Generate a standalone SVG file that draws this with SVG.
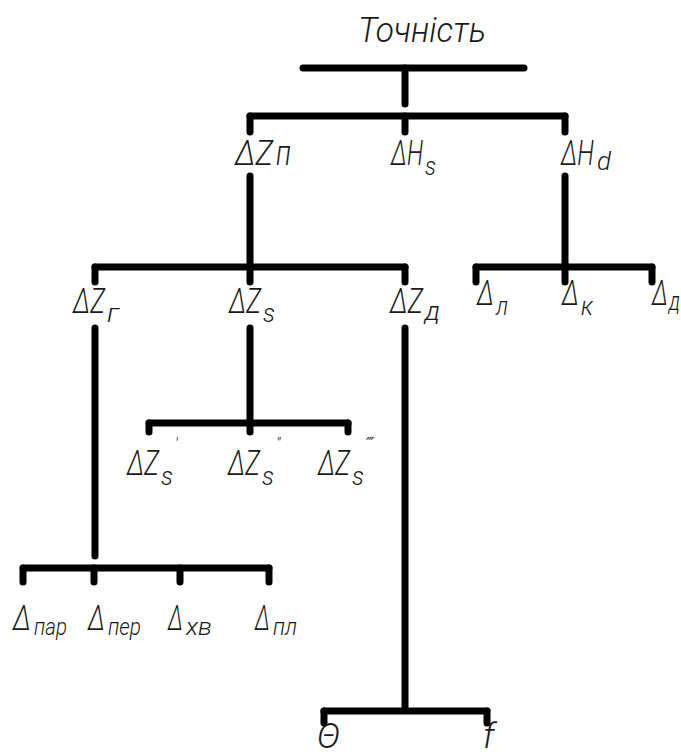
<svg xmlns="http://www.w3.org/2000/svg" width="681" height="755" viewBox="0 0 681 755">
<style>
.t{font-family:Roboto,"DejaVu Sans",sans-serif;font-style:italic;font-weight:300;font-size:35px;fill:#1a1a1a;}
.s{font-size:25px;}
.b{font-size:23px;}
.p{font-size:16px;}
.c line{stroke:#000;stroke-width:7;stroke-linecap:round;}
</style>
<rect width="681" height="755" fill="#fff"/>
<g class="c" id="connectors">
<line x1="303" y1="68" x2="524" y2="68"/>
<line x1="405" y1="68" x2="405" y2="104"/>
<line x1="250" y1="116" x2="565" y2="116"/>
<line x1="250" y1="116" x2="250" y2="132"/>
<line x1="405" y1="116" x2="405" y2="132"/>
<line x1="565" y1="116" x2="565" y2="132"/>
<line x1="250" y1="176" x2="250" y2="266"/>
<line x1="565" y1="176" x2="565" y2="266"/>
<line x1="95" y1="267" x2="405" y2="267"/>
<line x1="95" y1="267" x2="95" y2="282"/>
<line x1="250" y1="267" x2="250" y2="282"/>
<line x1="405" y1="267" x2="405" y2="282"/>
<line x1="476" y1="267" x2="652" y2="267"/>
<line x1="476" y1="267" x2="476" y2="282"/>
<line x1="565" y1="267" x2="565" y2="282"/>
<line x1="652" y1="267" x2="652" y2="282"/>
<line x1="95" y1="328" x2="95" y2="556"/>
<line x1="250" y1="328" x2="250" y2="422"/>
<line x1="405" y1="328" x2="405" y2="710"/>
<line x1="149" y1="423" x2="348" y2="423"/>
<line x1="149" y1="423" x2="149" y2="432"/>
<line x1="250" y1="423" x2="250" y2="432"/>
<line x1="348" y1="423" x2="348" y2="432"/>
<line x1="23" y1="568" x2="269" y2="568"/>
<line x1="23" y1="568" x2="23" y2="582"/>
<line x1="94" y1="568" x2="94" y2="582"/>
<line x1="180" y1="568" x2="180" y2="582"/>
<line x1="269" y1="568" x2="269" y2="582"/>
<line x1="324" y1="711" x2="487" y2="711"/>
<line x1="324" y1="711" x2="324" y2="723"/>
<line x1="487" y1="711" x2="487" y2="723"/>
</g>
<g id="n-tochnist"><text class="t" x="358" y="42" font-size="36" textLength="128" lengthAdjust="spacingAndGlyphs">Точність</text></g>
<g id="n-dzn"><text class="t" x="235" y="165" font-weight="500" textLength="38" lengthAdjust="spacingAndGlyphs">ΔZ</text><text class="t" x="276" y="165" font-size="30" font-weight="500" textLength="15" lengthAdjust="spacingAndGlyphs">п</text></g>
<g id="n-dhs"><text class="t" x="391" y="165" textLength="32" lengthAdjust="spacingAndGlyphs">ΔH</text><text class="t s" x="425" y="175" textLength="11" lengthAdjust="spacingAndGlyphs">s</text></g>
<g id="n-dhd"><text class="t" x="561" y="165" textLength="33" lengthAdjust="spacingAndGlyphs">ΔH</text><text class="t s" x="597" y="170" textLength="14" lengthAdjust="spacingAndGlyphs">d</text></g>
<g id="n-dzg"><text class="t" x="73" y="313" textLength="32" lengthAdjust="spacingAndGlyphs">ΔZ</text><text class="t s" x="107" y="322" textLength="12" lengthAdjust="spacingAndGlyphs">г</text></g>
<g id="n-dzs"><text class="t" x="229" y="313" textLength="32" lengthAdjust="spacingAndGlyphs">ΔZ</text><text class="t s" x="263" y="322" textLength="12" lengthAdjust="spacingAndGlyphs">s</text></g>
<g id="n-dzd"><text class="t" x="390" y="313" textLength="33" lengthAdjust="spacingAndGlyphs">ΔZ</text><text class="t s" x="425" y="320" textLength="15" lengthAdjust="spacingAndGlyphs">д</text></g>
<g id="n-dl"><text class="t" x="477" y="305" textLength="17" lengthAdjust="spacingAndGlyphs">Δ</text><text class="t s" x="496" y="315" textLength="12" lengthAdjust="spacingAndGlyphs">л</text></g>
<g id="n-dk"><text class="t" x="562" y="305" textLength="17" lengthAdjust="spacingAndGlyphs">Δ</text><text class="t s" x="581" y="315" textLength="12" lengthAdjust="spacingAndGlyphs">к</text></g>
<g id="n-dd"><text class="t" x="652" y="305" textLength="16" lengthAdjust="spacingAndGlyphs">Δ</text><text class="t s" x="669" y="310" textLength="11" lengthAdjust="spacingAndGlyphs">д</text></g>
<g id="n-dzs1"><text class="t" x="127" y="475" textLength="32" lengthAdjust="spacingAndGlyphs">ΔZ</text><text class="t s" x="161" y="485" textLength="12" lengthAdjust="spacingAndGlyphs">s</text><text class="t p" x="175" y="449">′</text></g>
<g id="n-dzs2"><text class="t" x="228" y="475" textLength="32" lengthAdjust="spacingAndGlyphs">ΔZ</text><text class="t s" x="262" y="485" textLength="12" lengthAdjust="spacingAndGlyphs">s</text><text class="t p" x="276" y="449">″</text></g>
<g id="n-dzs3"><text class="t" x="318" y="475" textLength="32" lengthAdjust="spacingAndGlyphs">ΔZ</text><text class="t s" x="352" y="485" textLength="12" lengthAdjust="spacingAndGlyphs">s</text><text class="t p" x="366" y="449">‴</text></g>
<g id="n-dpar"><text class="t" x="13" y="630" textLength="18" lengthAdjust="spacingAndGlyphs">Δ</text><text class="t b" x="34" y="635" textLength="33" lengthAdjust="spacingAndGlyphs">пар</text></g>
<g id="n-dper"><text class="t" x="88" y="630" textLength="17" lengthAdjust="spacingAndGlyphs">Δ</text><text class="t b" x="108" y="635" textLength="33" lengthAdjust="spacingAndGlyphs">пер</text></g>
<g id="n-dxv"><text class="t" x="168" y="630" textLength="15" lengthAdjust="spacingAndGlyphs">Δ</text><text class="t b" x="186" y="635" textLength="26" lengthAdjust="spacingAndGlyphs">хв</text></g>
<g id="n-dpl"><text class="t" x="255" y="630" textLength="15" lengthAdjust="spacingAndGlyphs">Δ</text><text class="t b" x="273" y="635" textLength="24" lengthAdjust="spacingAndGlyphs">пл</text></g>
<g id="n-theta"><text class="t" x="317" y="748" font-size="24">Θ</text></g>
<g id="n-f"><text class="t" x="483" y="748" font-size="24">f</text></g>
</svg>
